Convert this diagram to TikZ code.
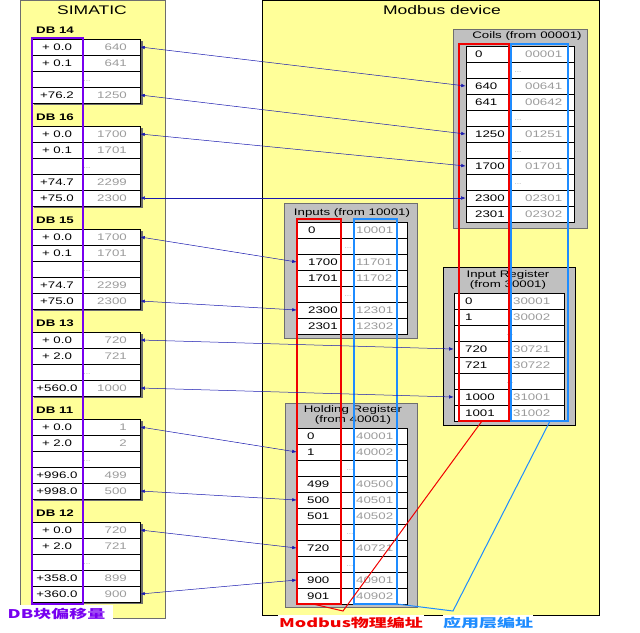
\documentclass[tikz,border=0pt]{standalone}
\usepackage{fontspec}
\setmainfont{Liberation Sans}[FakeStretch=1.4]
\newfontfamily\cjk{Noto Sans CJK SC}[FakeStretch=1.5]
\usetikzlibrary{arrows.meta}
\definecolor{panelyellow}{RGB}{255,255,153}
\definecolor{boxgray}{RGB}{192,192,192}
\definecolor{boxedge}{RGB}{110,110,110}
\definecolor{valgray}{RGB}{155,155,155}
\definecolor{dbpurple}{RGB}{120,0,240}
\definecolor{addrred}{RGB}{240,0,0}
\definecolor{addrblue}{RGB}{30,140,255}
\definecolor{arrowblue}{RGB}{25,25,175}
\tikzset{
  lcell/.style={draw=black, fill=white, minimum width=108pt, minimum height=16pt, inner sep=0pt, line width=0.6pt},
  rcell/.style={draw=black, fill=white, minimum height=16pt, inner sep=0pt, line width=0.6pt},
  offtxt/.style={inner sep=0pt, font=\fontsize{9.5}{11}\selectfont},
  valtxt/.style={inner sep=0pt, anchor=east, text=valgray, font=\fontsize{9.5}{11}\selectfont},
  keytxt/.style={inner sep=0pt, anchor=west, font=\fontsize{9.5}{11}\selectfont},
  mvaltxt/.style={inner sep=0pt, anchor=west, text=valgray, font=\fontsize{9.5}{11}\selectfont},
  elltxt/.style={inner sep=0pt, text=valgray, font=\fontsize{6}{7}\selectfont},
  dbtxt/.style={inner sep=0pt, anchor=west, font=\fontsize{9.5}{11}\selectfont\bfseries},
  paneltitle/.style={inner sep=0pt, font=\fontsize{12.5}{14}\selectfont},
  boxtitle/.style={inner sep=0pt, align=center, font=\fontsize{9.5}{10.5}\selectfont},
  mbox/.style={fill=boxgray, draw=boxedge, line width=0.8pt},
  redbox/.style={draw=addrred, line width=1.6pt},
  bluebox/.style={draw=addrblue, line width=1.3pt},
  biarrow/.style={draw=arrowblue, line width=0.5pt, {Latex[length=4.5pt,width=3.5pt]}-{Latex[length=4.5pt,width=3.5pt]}},
  lablbox/.style={fill=white, inner sep=0pt, font=\fontsize{12}{14}\selectfont\cjk\bfseries}
}
% left table row helpers
\newcommand\lrowc[4]{\node[lcell] (#1) at (86,#2) {};
  \node[offtxt] at (57,#2) {#3};
  \node[valtxt] at (127,#2) {#4};}
\newcommand\lell[2]{\node[lcell] (#1) at (86,#2) {};
  \node[elltxt] at (87,#2+2) {...};}
% modbus table row helpers
\newcommand\mrow[4]{\node[rcell, minimum width=\tw pt] (#1) at (\tcx,#2) {};
  \node[keytxt] at (\tlx,#2) {#3};
  \node[mvaltxt] at (\tvx,#2) {#4};}
\newcommand\mell[2]{\node[rcell, minimum width=\tw pt] (#1) at (\tcx,#2) {};
  \node[elltxt] at (\tex,#2+2) {...};}
\begin{document}
\begin{tikzpicture}[x=1pt,y=-1pt]
\useasboundingbox (0,0) rectangle (640,632);
% panels
\draw[draw=boxedge, fill=panelyellow, line width=0.8pt] (20,0) rectangle (165,618);
\draw[draw=black, fill=panelyellow, line width=0.8pt] (262,0) rectangle (599,615);
\node[paneltitle] (simatic) at (92,10) {SIMATIC};
\node[paneltitle] (mbdev) at (442,10) {Modbus device};

% ---------- SIMATIC tables ----------
\foreach \t/\b in {39/103,126/206,229/309,332/396,419/499,522/602}
  \fill[boxedge] (34,\t+2) rectangle (142.5,\b+2);
\node[dbtxt] (db14) at (36,30) {DB 14};
\lrowc{l14a}{47}{+ 0.0}{640}
\lrowc{l14b}{63}{+ 0.1}{641}
\lell{l14c}{79}
\lrowc{l14d}{95}{+76.2}{1250}
\node[dbtxt] (db16) at (36,117) {DB 16};
\lrowc{l16a}{134}{+ 0.0}{1700}
\lrowc{l16b}{150}{+ 0.1}{1701}
\lell{l16c}{166}
\lrowc{l16d}{182}{+74.7}{2299}
\lrowc{l16e}{198}{+75.0}{2300}
\node[dbtxt] (db15) at (36,220) {DB 15};
\lrowc{l15a}{237}{+ 0.0}{1700}
\lrowc{l15b}{253}{+ 0.1}{1701}
\lell{l15c}{269}
\lrowc{l15d}{285}{+74.7}{2299}
\lrowc{l15e}{301}{+75.0}{2300}
\node[dbtxt] (db13) at (36,323) {DB 13};
\lrowc{l13a}{340}{+ 0.0}{720}
\lrowc{l13b}{356}{+ 2.0}{721}
\lell{l13c}{372}
\lrowc{l13d}{388}{+560.0}{1000}
\node[dbtxt] (db11) at (36,410) {DB 11};
\lrowc{l11a}{427}{+ 0.0}{1}
\lrowc{l11b}{443}{+ 2.0}{2}
\lell{l11c}{459}
\lrowc{l11d}{475}{+996.0}{499}
\lrowc{l11e}{491}{+998.0}{500}
\node[dbtxt] (db12) at (36,513) {DB 12};
\lrowc{l12a}{530}{+ 0.0}{720}
\lrowc{l12b}{546}{+ 2.0}{721}
\lell{l12c}{562}
\lrowc{l12d}{578}{+358.0}{899}
\lrowc{l12e}{594}{+360.0}{900}
% offset column frame
\draw[dbpurple, line width=1.3pt] (32,38) rectangle (83,604);
\draw[dbpurple, line width=2.2pt] (83,38) -- (83,604);

% ---------- Modbus boxes ----------
\draw[mbox] (453,29) rectangle (587,228);
\draw[mbox] (284,203) rectangle (417,338);
\draw[mbox, draw=black] (443,267) rectangle (575,425);
\draw[mbox] (285,403) rectangle (417,607);
\node[boxtitle] (coilst) at (527,36) {Coils (from 00001)};
\node[boxtitle] (inpt) at (352,213) {Inputs (from 10001)};
\node[boxtitle] (irt) at (508,280) {Input Register\\(from 30001)};
\node[boxtitle] (hrt) at (353,415) {Holding Register\\(from 40001)};

% Coils
\def\tcx{520}\def\tw{108}\def\tlx{475}\def\tvx{525}\def\tex{518}
\mrow{c0}{54}{0}{00001}
\mell{c1}{70}
\mrow{c640}{86}{640}{00641}
\mrow{c641}{102}{641}{00642}
\mell{c2}{118}
\mrow{c1250}{134}{1250}{01251}
\mell{c3}{150}
\mrow{c1700}{166}{1700}{01701}
\mell{c4}{182}
\mrow{c2300}{198}{2300}{02301}
\mrow{c2301}{214}{2301}{02302}
% Inputs
\def\tcx{352}\def\tw{110}\def\tlx{308}\def\tvx{356}\def\tex{348}
\mrow{i0}{230}{0}{10001}
\mell{i1}{246}
\mrow{i1700}{262}{1700}{11701}
\mrow{i1701}{278}{1701}{11702}
\mell{i2}{294}
\mrow{i2300}{310}{2300}{12301}
\mrow{i2301}{326}{2301}{12302}
% Input Register
\def\tcx{509}\def\tw{110}\def\tlx{465}\def\tvx{513}\def\tex{510}
\mrow{r0}{301}{0}{30001}
\mrow{r1}{317}{1}{30002}
\mell{r2}{333}
\mrow{r720}{349}{720}{30721}
\mrow{r721}{365}{721}{30722}
\mell{r3}{381}
\mrow{r1000}{397}{1000}{31001}
\mrow{r1001}{413}{1001}{31002}
% Holding Register
\def\tcx{352}\def\tw{110}\def\tlx{307}\def\tvx{356}\def\tex{350}
\mrow{h0}{436}{0}{40001}
\mrow{h1}{452}{1}{40002}
\mell{h2}{468}
\mrow{h499}{484}{499}{40500}
\mrow{h500}{500}{500}{40501}
\mrow{h501}{516}{501}{40502}
\mell{h3}{532}
\mrow{h720}{548}{720}{40721}
\mell{h4}{564}
\mrow{h900}{580}{900}{40901}
\mrow{h901}{596}{901}{40902}

% address frames
\draw[redbox] (459,44) rectangle (509,421);
\draw[redbox] (297,219) rectangle (341,604);
\draw[bluebox] (511,44) rectangle (568,421);
\draw[bluebox] (354,219) rectangle (397,604);

% mapping arrows
\draw[biarrow] (c640.west) -- (l14a.east);
\draw[biarrow] (c1250.west) -- (l14d.east);
\draw[biarrow] (c1700.west) -- (l16a.east);
\draw[biarrow] (c2300.west) -- (l16e.east);
\draw[biarrow] (i1700.west) -- (l15a.east);
\draw[biarrow] (i2300.west) -- (l15e.east);
\draw[biarrow] (r720.west) -- (l13a.east);
\draw[biarrow] (r1000.west) -- (l13d.east);
\draw[biarrow] (h1.west) -- (l11a.east);
\draw[biarrow] (h500.west) -- (l11e.east);
\draw[biarrow] (h720.west) -- (l12a.east);
\draw[biarrow] (h900.west) -- (l12e.east);

% labels
\node[lablbox, text=dbpurple, minimum width=113pt, minimum height=18pt] (dblab) at (56.5,614) {DB块偏移量};
\node[lablbox, text=addrred, minimum width=146pt, minimum height=16pt] (physlab) at (351,623) {Modbus物理编址};
\node[lablbox, text=addrblue, minimum height=16pt] (applab) at (488,623) {应用层编址};

% label connectors
\coordinate (redR) at (482,421);
\coordinate (redL) at (313,604);
\coordinate (redV) at (343,611);
\coordinate (blueR) at (550,421);
\coordinate (blueL) at (397,604);
\coordinate (blueV) at (453,611);
\draw[addrred, line width=1pt] (redR) -- (redV) -- (redL);
\draw[addrblue, line width=1pt] (blueR) -- (blueV) -- (blueL);
\end{tikzpicture}
\end{document}
